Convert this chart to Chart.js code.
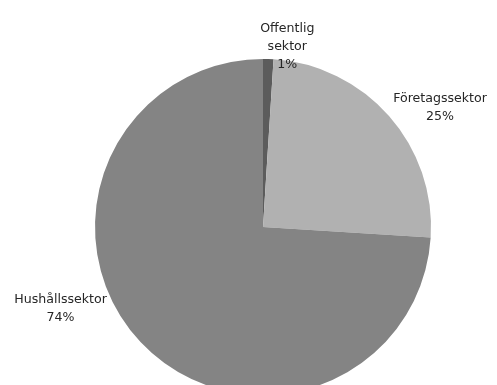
<!DOCTYPE html>
<html>
<head>
<meta charset="utf-8">
<script src="https://cdn.jsdelivr.net/npm/chart.js@4"></script>
<style>
  body { margin: 0; background: #fff; }
  #wrap { width: 497px; height: 385px; overflow: hidden; position: relative; }
</style>
</head>
<body>
<div id="wrap"><canvas id="sectorChart" width="497" height="410"></canvas></div>
<script>
const sectors = ["Offentlig sektor", "Företagssektor", "Hushållssektor"];
const labelLines = [["Offentlig", "sektor"], ["Företagssektor"], ["Hushållssektor"]];
const shares = [1, 25, 74];
const colors = ["#5c5c5c", "#b1b1b1", "#848484"];

// label block centre, relative to the outer edge point at each slice's mid angle
const labelOffsets = [[19, -12], [51, -8], [-80, -33]];

const sliceLabels = {
  id: "sliceLabels",
  afterDraw(chart) {
    const ctx = chart.ctx;
    const meta = chart.getDatasetMeta(0);
    ctx.save();
    ctx.font = "12.6px 'DejaVu Sans'";
    ctx.fillStyle = "#262626";
    ctx.textAlign = "center";
    ctx.textBaseline = "middle";
    const lh = 18;
    meta.data.forEach((arc, i) => {
      const mid = (arc.startAngle + arc.endAngle) / 2;
      const ex = arc.x + Math.cos(mid) * arc.outerRadius;
      const ey = arc.y + Math.sin(mid) * arc.outerRadius;
      const lines = labelLines[i].concat([shares[i] + "%"]);
      const cx = ex + labelOffsets[i][0];
      const cy = ey + labelOffsets[i][1] - (lines.length - 1) * lh / 2;
      lines.forEach((t, j) => ctx.fillText(t, cx, cy + j * lh));
    });
    ctx.restore();
  }
};

document.addEventListener("DOMContentLoaded", () => {
  const ctx = document.getElementById("sectorChart").getContext("2d");
  new Chart(ctx, {
    type: "pie",
    data: {
      labels: sectors,
      datasets: [
        {
          data: shares,
          backgroundColor: colors,
          borderWidth: 0,
        },
      ],
    },
    options: {
      responsive: false,
      animation: false,
      layout: { padding: { top: 59, bottom: 15, left: 95, right: 66 } },
      plugins: {
        legend: { display: false },
        tooltip: { enabled: false },
      },
    },
    plugins: [sliceLabels],
  });
});
</script>
</body>
</html>
